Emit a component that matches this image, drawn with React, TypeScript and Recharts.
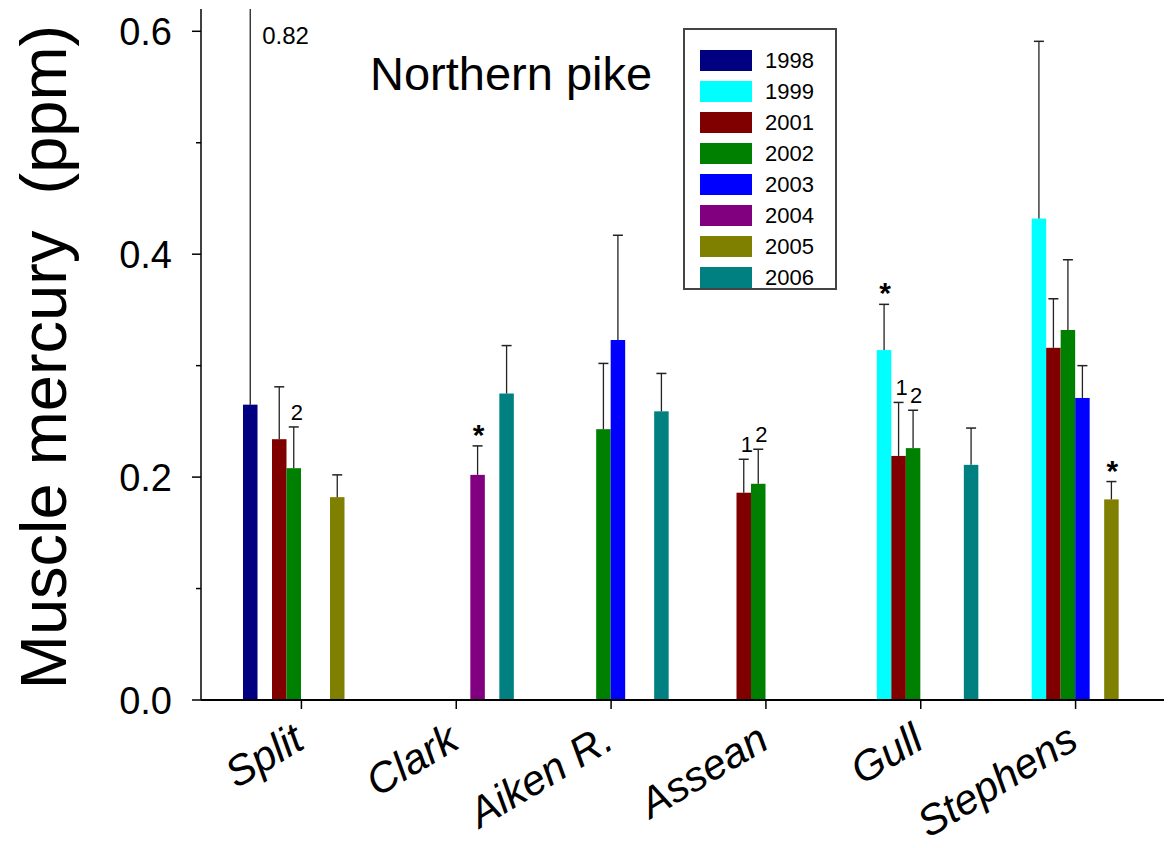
import { BarChart, Bar, XAxis, YAxis, Legend } from "recharts"

const sites = ["Split", "Clark", "Aiken R.", "Assean", "Gull", "Stephens"]
const years = ["1998", "1999", "2001", "2002", "2003", "2004", "2005", "2006"]
const yTicks = [0, 0.1, 0.2, 0.3, 0.4, 0.5, 0.6]

// mean muscle Hg (ppm) per site, one array per year
const hg1998 = [0.265, null, null, null, null, null]
const hg1999 = [null, null, null, null, 0.314, 0.432]
const hg2001 = [0.234, null, null, 0.186, 0.219, 0.316]
const hg2002 = [0.208, null, 0.243, 0.194, 0.226, 0.332]
const hg2003 = [null, null, 0.323, null, null, 0.271]
const hg2004 = [null, 0.202, null, null, null, null]
const hg2005 = [0.182, null, null, null, null, 0.18]
const hg2006 = [null, 0.275, 0.259, null, 0.211, null]

// upper error (SD)
const err1998 = [0.555, null, null, null, null, null]
const err1999 = [null, null, null, null, 0.041, 0.159]
const err2001 = [0.047, null, null, 0.03, 0.048, 0.044]
const err2002 = [0.037, null, 0.059, 0.031, 0.034, 0.063]
const err2003 = [null, null, 0.094, null, null, 0.029]
const err2004 = [null, 0.026, null, null, null, null]
const err2005 = [0.02, null, null, null, null, 0.016]
const err2006 = [null, 0.043, 0.034, null, 0.033, null]

// significance marks above the error bars
const note1998 = ["", "", "", "", "", ""]
const note1999 = ["", "", "", "", "*", ""]
const note2001 = ["", "", "", "1", "1", ""]
const note2002 = ["2", "", "", "2", "2", ""]
const note2003 = ["", "", "", "", "", ""]
const note2004 = ["", "*", "", "", "", ""]
const note2005 = ["", "", "", "", "", "*"]
const note2006 = ["", "", "", "", "", ""]

const colors: Record<string, string> = {
  "1998": "#000080",
  "1999": "#00ffff",
  "2001": "#800000",
  "2002": "#008000",
  "2003": "#0000ff",
  "2004": "#800080",
  "2005": "#808000",
  "2006": "#008080",
}

const hg: Record<string, (number | null)[]> = {
  "1998": hg1998, "1999": hg1999, "2001": hg2001, "2002": hg2002,
  "2003": hg2003, "2004": hg2004, "2005": hg2005, "2006": hg2006,
}
const errs: Record<string, (number | null)[]> = {
  "1998": err1998, "1999": err1999, "2001": err2001, "2002": err2002,
  "2003": err2003, "2004": err2004, "2005": err2005, "2006": err2006,
}
const notes: Record<string, string[]> = {
  "1998": note1998, "1999": note1999, "2001": note2001, "2002": note2002,
  "2003": note2003, "2004": note2004, "2005": note2005, "2006": note2006,
}

const data = sites.map((site, i) => {
  const row: any = { site }
  years.forEach((yr) => {
    row["hg" + yr] = hg[yr][i]
    row["err" + yr] = errs[yr][i]
    row["note" + yr] = notes[yr][i]
  })
  return row
})

const YMAX = 0.62
const FONT = "'Liberation Sans', Arial, sans-serif"

const makeShape = (yr: string) => (props: any) => {
  const { x, y, width, height, payload, fill } = props
  const v = payload["hg" + yr]
  if (v == null || !height) return null
  const err = payload["err" + yr]
  const note = payload["note" + yr]
  const ppu = height / v
  const base = y + height
  const top = base - YMAX * ppu
  const cx = x + width / 2
  let ey = y - (err || 0) * ppu
  const clipped = ey < top
  if (clipped) ey = top
  return (
    <g>
      <rect x={x} y={y} width={width} height={height} fill={fill} />
      {err != null && <line x1={cx} y1={y} x2={cx} y2={ey} stroke="#222" strokeWidth={1.3} />}
      {err != null && !clipped && <line x1={cx - 5} y1={ey} x2={cx + 5} y2={ey} stroke="#222" strokeWidth={1.5} />}
      {clipped && (
        <text x={cx + 12} y={top + 35} fontSize={24} fontFamily={FONT} fill="#000">
          {(v + err).toFixed(2)}
        </text>
      )}
      {note === "*" && (
        <text x={cx + 1} y={ey - 1} fontSize={30} fontWeight="bold" fontFamily={FONT} textAnchor="middle" fill="#000">*</text>
      )}
      {note && note !== "*" && (
        <text x={cx + 3} y={ey - 7} fontSize={22} fontFamily={FONT} textAnchor="middle" fill="#000">{note}</text>
      )}
    </g>
  )
}

const YTick = (props: any) => {
  const { x, y, payload } = props
  const major = Math.round(payload.value * 10) % 2 === 0
  return (
    <g>
      <line x1={x - (major ? 9 : 5)} y1={y} x2={x} y2={y} stroke="#000" strokeWidth={1.5} />
      {major && (
        <text x={x - 29} y={y} dy="0.36em" textAnchor="end" fontSize={38} fontFamily={FONT} fill="#000">
          {payload.value.toFixed(1)}
        </text>
      )}
    </g>
  )
}

const XTick = (props: any) => {
  const { x, y, payload } = props
  const ax = x + 5
  const ay = y + 38
  return (
    <text
      x={ax}
      y={ay}
      textAnchor="end"
      transform={`rotate(-31, ${ax}, ${ay})`}
      fontSize={42}
      fontStyle="italic"
      fontFamily={FONT}
      fill="#000"
    >
      {payload.value}
    </text>
  )
}

const LegendBox = (props: any) => {
  const { payload } = props
  return (
    <div
      style={{
        boxSizing: "border-box",
        width: 154,
        height: 262,
        border: "2px solid #444",
        paddingTop: 15,
        paddingLeft: 15,
        background: "#fff",
        fontFamily: FONT,
      }}
    >
      {payload.map((p: any) => (
        <div key={p.value} style={{ height: 31, display: "flex", alignItems: "center" }}>
          <div style={{ width: 52, height: 21, background: p.color }} />
          <span style={{ marginLeft: 13, fontSize: 22, color: "#000" }}>{p.value}</span>
        </div>
      ))}
    </div>
  )
}

export default function App() {
  return (
    <div style={{ position: "relative", width: 1164, height: 840, background: "#fff" }}>
      <BarChart
        width={1164}
        height={840}
        data={data}
        margin={{ top: 1, right: 0, left: 0, bottom: 8 }}
        barSize={14.5}
        barGap={0}
      >
        <XAxis
          xAxisId="b"
          dataKey="site"
          interval={0}
          padding={{ left: 23, right: 19 }}
          height={140}
          tickSize={9}
          tickMargin={0}
          tickLine={{ stroke: "#000", strokeWidth: 1.5 }}
          axisLine={{ stroke: "#000", strokeWidth: 2 }}
          tick={<XTick />}
        />
        <XAxis
          xAxisId="t"
          dataKey="site"
          orientation="top"
          height={0}
          tick={false}
          tickLine={false}
          axisLine={{ stroke: "#111", strokeWidth: 2 }}
        />
        <YAxis
          type="number"
          width={193}
          domain={[0, YMAX]}
          ticks={yTicks}
          interval={0}
          tickSize={0}
          tickMargin={0}
          tickLine={false}
          axisLine={{ stroke: "#000", strokeWidth: 1.5 }}
          tick={<YTick />}
        />
        <Legend
          layout="vertical"
          align="center"
          verticalAlign="middle"
          wrapperStyle={{ position: "absolute", left: 675, top: 20, width: 154 }}
          content={<LegendBox />}
        />
        {years.map((yr) => (
          <Bar
            key={yr}
            xAxisId="b"
            dataKey={"hg" + yr}
            name={yr}
            fill={colors[yr]}
            shape={makeShape(yr)}
            isAnimationActive={false}
          />
        ))}
      </BarChart>
      <svg
        width={1164}
        height={840}
        style={{ position: "absolute", left: 0, top: 0, pointerEvents: "none" }}
      >
        <text x={362} y={82} fontSize={47} fontFamily={FONT} fill="#000">
          Northern pike
        </text>
        <text
          x={58}
          y={349}
          transform="rotate(-90, 58, 349)"
          textAnchor="middle"
          fontSize={65}
          fontFamily={FONT}
          fill="#000"
          style={{ whiteSpace: "pre" }}
        >
          {"Muscle mercury  (ppm)"}
        </text>
      </svg>
    </div>
  )
}
